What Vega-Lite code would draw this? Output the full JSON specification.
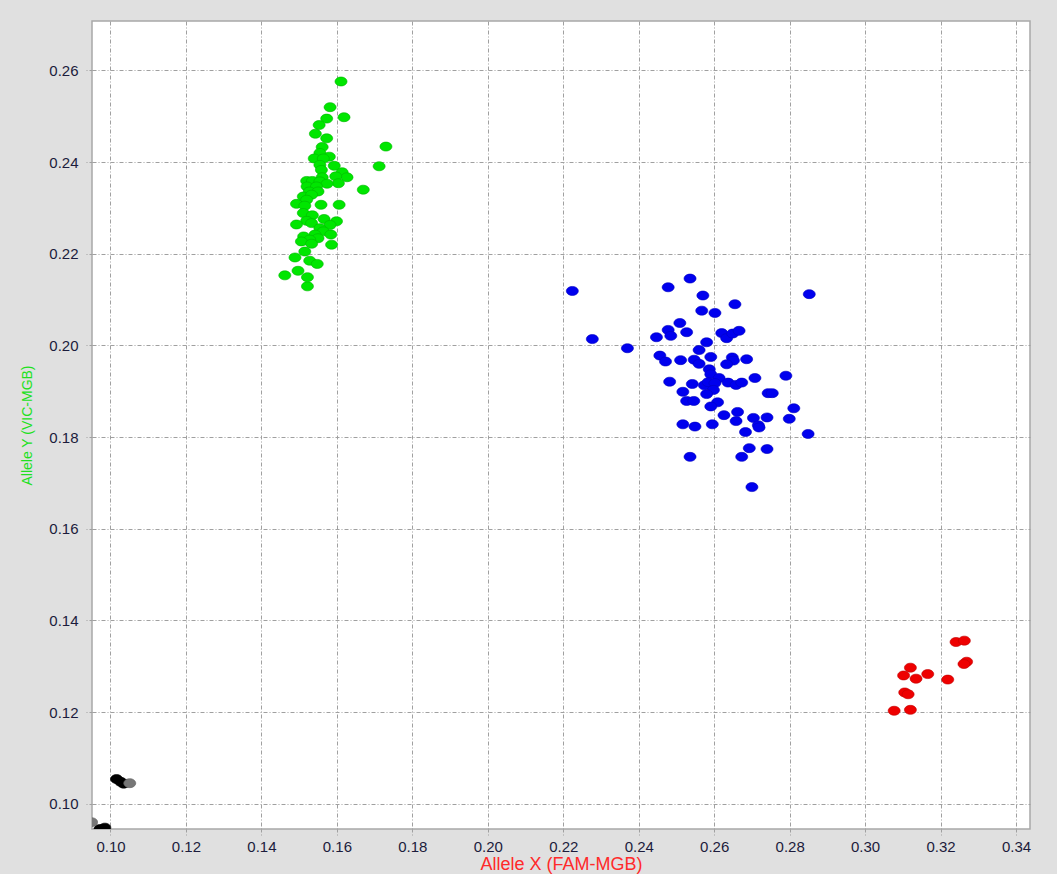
{
  "$schema": "https://vega.github.io/schema/vega-lite/v6.json",
  "width": 938,
  "height": 808,
  "autosize": {"type": "none"},
  "padding": {"left": 92, "top": 21, "right": 27, "bottom": 45},
  "background": "#e0e0e0",
  "config": {
    "view": {"fill": "#ffffff", "stroke": "#a8a8a8", "strokeWidth": 1.5},
    "font": "Liberation Sans"
  },
  "datasets": {
    "pts": [
      {"x": 0.1611, "y": 0.2576, "g": "green"}, {"x": 0.1582, "y": 0.2520, "g": "green"}, {"x": 0.1619, "y": 0.2498, "g": "green"}, {"x": 0.1573, "y": 0.2495, "g": "green"},
      {"x": 0.1553, "y": 0.2481, "g": "green"}, {"x": 0.1543, "y": 0.2462, "g": "green"}, {"x": 0.1573, "y": 0.2452, "g": "green"}, {"x": 0.1730, "y": 0.2434, "g": "green"},
      {"x": 0.1561, "y": 0.2433, "g": "green"}, {"x": 0.1555, "y": 0.2420, "g": "green"}, {"x": 0.1580, "y": 0.2412, "g": "green"}, {"x": 0.1540, "y": 0.2408, "g": "green"},
      {"x": 0.1564, "y": 0.2408, "g": "green"}, {"x": 0.1555, "y": 0.2394, "g": "green"}, {"x": 0.1559, "y": 0.2383, "g": "green"}, {"x": 0.1593, "y": 0.2392, "g": "green"},
      {"x": 0.1712, "y": 0.2391, "g": "green"}, {"x": 0.1614, "y": 0.2378, "g": "green"}, {"x": 0.1627, "y": 0.2367, "g": "green"}, {"x": 0.1597, "y": 0.2369, "g": "green"},
      {"x": 0.1561, "y": 0.2367, "g": "green"}, {"x": 0.1604, "y": 0.2354, "g": "green"}, {"x": 0.1520, "y": 0.2359, "g": "green"}, {"x": 0.1535, "y": 0.2359, "g": "green"},
      {"x": 0.1555, "y": 0.2358, "g": "green"}, {"x": 0.1574, "y": 0.2353, "g": "green"}, {"x": 0.1521, "y": 0.2347, "g": "green"}, {"x": 0.1546, "y": 0.2347, "g": "green"},
      {"x": 0.1527, "y": 0.2336, "g": "green"}, {"x": 0.1550, "y": 0.2336, "g": "green"}, {"x": 0.1670, "y": 0.2340, "g": "green"}, {"x": 0.1511, "y": 0.2325, "g": "green"},
      {"x": 0.1533, "y": 0.2329, "g": "green"}, {"x": 0.1520, "y": 0.2318, "g": "green"}, {"x": 0.1493, "y": 0.2309, "g": "green"}, {"x": 0.1515, "y": 0.2305, "g": "green"},
      {"x": 0.1558, "y": 0.2307, "g": "green"}, {"x": 0.1606, "y": 0.2307, "g": "green"}, {"x": 0.1511, "y": 0.2289, "g": "green"}, {"x": 0.1535, "y": 0.2284, "g": "green"},
      {"x": 0.1520, "y": 0.2272, "g": "green"}, {"x": 0.1566, "y": 0.2276, "g": "green"}, {"x": 0.1599, "y": 0.2271, "g": "green"}, {"x": 0.1493, "y": 0.2264, "g": "green"},
      {"x": 0.1533, "y": 0.2267, "g": "green"}, {"x": 0.1582, "y": 0.2263, "g": "green"}, {"x": 0.1555, "y": 0.2256, "g": "green"}, {"x": 0.1564, "y": 0.2249, "g": "green"},
      {"x": 0.1584, "y": 0.2242, "g": "green"}, {"x": 0.1542, "y": 0.2242, "g": "green"}, {"x": 0.1512, "y": 0.2238, "g": "green"}, {"x": 0.1550, "y": 0.2234, "g": "green"},
      {"x": 0.1528, "y": 0.2231, "g": "green"}, {"x": 0.1506, "y": 0.2227, "g": "green"}, {"x": 0.1533, "y": 0.2222, "g": "green"}, {"x": 0.1586, "y": 0.2220, "g": "green"},
      {"x": 0.1515, "y": 0.2205, "g": "green"}, {"x": 0.1489, "y": 0.2192, "g": "green"}, {"x": 0.1528, "y": 0.2185, "g": "green"}, {"x": 0.1548, "y": 0.2178, "g": "green"},
      {"x": 0.1497, "y": 0.2163, "g": "green"}, {"x": 0.1462, "y": 0.2153, "g": "green"}, {"x": 0.1522, "y": 0.2149, "g": "green"}, {"x": 0.1522, "y": 0.2129, "g": "green"},
      {"x": 0.2224, "y": 0.2119, "g": "blue"}, {"x": 0.2478, "y": 0.2127, "g": "blue"}, {"x": 0.2536, "y": 0.2146, "g": "blue"}, {"x": 0.2852, "y": 0.2112, "g": "blue"},
      {"x": 0.2570, "y": 0.2109, "g": "blue"}, {"x": 0.2655, "y": 0.2090, "g": "blue"}, {"x": 0.2567, "y": 0.2076, "g": "blue"}, {"x": 0.2602, "y": 0.2071, "g": "blue"},
      {"x": 0.2509, "y": 0.2049, "g": "blue"}, {"x": 0.2478, "y": 0.2034, "g": "blue"}, {"x": 0.2527, "y": 0.2029, "g": "blue"}, {"x": 0.2485, "y": 0.2021, "g": "blue"},
      {"x": 0.2447, "y": 0.2018, "g": "blue"}, {"x": 0.2620, "y": 0.2027, "g": "blue"}, {"x": 0.2633, "y": 0.2016, "g": "blue"}, {"x": 0.2649, "y": 0.2026, "g": "blue"},
      {"x": 0.2666, "y": 0.2032, "g": "blue"}, {"x": 0.2277, "y": 0.2014, "g": "blue"}, {"x": 0.2580, "y": 0.2007, "g": "blue"}, {"x": 0.2370, "y": 0.1994, "g": "blue"},
      {"x": 0.2560, "y": 0.1990, "g": "blue"}, {"x": 0.2456, "y": 0.1978, "g": "blue"}, {"x": 0.2471, "y": 0.1965, "g": "blue"}, {"x": 0.2511, "y": 0.1968, "g": "blue"},
      {"x": 0.2547, "y": 0.1969, "g": "blue"}, {"x": 0.2560, "y": 0.1960, "g": "blue"}, {"x": 0.2591, "y": 0.1975, "g": "blue"}, {"x": 0.2648, "y": 0.1974, "g": "blue"},
      {"x": 0.2651, "y": 0.1967, "g": "blue"}, {"x": 0.2633, "y": 0.1959, "g": "blue"}, {"x": 0.2686, "y": 0.1970, "g": "blue"}, {"x": 0.2587, "y": 0.1948, "g": "blue"},
      {"x": 0.2591, "y": 0.1937, "g": "blue"}, {"x": 0.2790, "y": 0.1934, "g": "blue"}, {"x": 0.2482, "y": 0.1921, "g": "blue"}, {"x": 0.2613, "y": 0.1929, "g": "blue"},
      {"x": 0.2708, "y": 0.1929, "g": "blue"}, {"x": 0.2542, "y": 0.1916, "g": "blue"}, {"x": 0.2574, "y": 0.1913, "g": "blue"}, {"x": 0.2584, "y": 0.1920, "g": "blue"},
      {"x": 0.2602, "y": 0.1918, "g": "blue"}, {"x": 0.2637, "y": 0.1919, "g": "blue"}, {"x": 0.2658, "y": 0.1914, "g": "blue"}, {"x": 0.2673, "y": 0.1919, "g": "blue"},
      {"x": 0.2598, "y": 0.1903, "g": "blue"}, {"x": 0.2517, "y": 0.1899, "g": "blue"}, {"x": 0.2580, "y": 0.1894, "g": "blue"}, {"x": 0.2743, "y": 0.1896, "g": "blue"},
      {"x": 0.2754, "y": 0.1896, "g": "blue"}, {"x": 0.2527, "y": 0.1879, "g": "blue"}, {"x": 0.2546, "y": 0.1879, "g": "blue"}, {"x": 0.2609, "y": 0.1876, "g": "blue"},
      {"x": 0.2591, "y": 0.1867, "g": "blue"}, {"x": 0.2811, "y": 0.1863, "g": "blue"}, {"x": 0.2626, "y": 0.1848, "g": "blue"}, {"x": 0.2662, "y": 0.1855, "g": "blue"},
      {"x": 0.2704, "y": 0.1842, "g": "blue"}, {"x": 0.2740, "y": 0.1843, "g": "blue"}, {"x": 0.2799, "y": 0.1840, "g": "blue"}, {"x": 0.2658, "y": 0.1835, "g": "blue"},
      {"x": 0.2517, "y": 0.1828, "g": "blue"}, {"x": 0.2549, "y": 0.1823, "g": "blue"}, {"x": 0.2595, "y": 0.1828, "g": "blue"}, {"x": 0.2717, "y": 0.1826, "g": "blue"},
      {"x": 0.2719, "y": 0.1821, "g": "blue"}, {"x": 0.2683, "y": 0.1811, "g": "blue"}, {"x": 0.2849, "y": 0.1807, "g": "blue"}, {"x": 0.2693, "y": 0.1776, "g": "blue"},
      {"x": 0.2740, "y": 0.1774, "g": "blue"}, {"x": 0.2536, "y": 0.1757, "g": "blue"}, {"x": 0.2673, "y": 0.1757, "g": "blue"}, {"x": 0.2700, "y": 0.1691, "g": "blue"},
      {"x": 0.3241, "y": 0.1353, "g": "red"}, {"x": 0.3263, "y": 0.1356, "g": "red"}, {"x": 0.3269, "y": 0.1310, "g": "red"}, {"x": 0.3262, "y": 0.1305, "g": "red"},
      {"x": 0.3120, "y": 0.1297, "g": "red"}, {"x": 0.3102, "y": 0.1280, "g": "red"}, {"x": 0.3135, "y": 0.1273, "g": "red"}, {"x": 0.3166, "y": 0.1283, "g": "red"},
      {"x": 0.3219, "y": 0.1271, "g": "red"}, {"x": 0.3105, "y": 0.1243, "g": "red"}, {"x": 0.3114, "y": 0.1239, "g": "red"}, {"x": 0.3077, "y": 0.1203, "g": "red"},
      {"x": 0.3120, "y": 0.1205, "g": "red"},
      {"x": 0.1016, "y": 0.1054, "g": "black"}, {"x": 0.1027, "y": 0.1048, "g": "black"}, {"x": 0.1035, "y": 0.1044, "g": "black"},
      {"x": 0.0972, "y": 0.0945, "g": "black"}, {"x": 0.0985, "y": 0.0948, "g": "black"},
      {"x": 0.1051, "y": 0.1045, "g": "gray"}, {"x": 0.0950, "y": 0.0960, "g": "gray"}
    ]
  },
  "data": {"name": "pts"},
  "mark": {
    "type": "point",
    "filled": true,
    "clip": true,
    "shape": "M-1,0A1,0.75,0,1,1,1,0A1,0.75,0,1,1,-1,0Z",
    "size": 144,
    "opacity": 1,
    "strokeWidth": 0.6
  },
  "encoding": {
    "x": {
      "field": "x", "type": "quantitative",
      "scale": {"domain": [0.0951, 0.3437], "nice": false, "zero": false},
      "axis": {
        "title": "Allele X (FAM-MGB)", "titleColor": "#ff2a2a", "titleFontSize": 18, "titleFontWeight": "normal", "titlePadding": 1,
        "values": [0.10, 0.12, 0.14, 0.16, 0.18, 0.20, 0.22, 0.24, 0.26, 0.28, 0.30, 0.32, 0.34],
        "format": ".2f", "labelFontSize": 15, "labelColor": "#1c1c3c", "labelPadding": 4,
        "domain": false, "ticks": true, "tickSize": 6, "tickColor": "#a0a0a0", "tickDash": [3, 2],
        "grid": true, "gridColor": "#a0a0a0", "gridDash": [4, 2, 1, 2], "gridWidth": 1
      }
    },
    "y": {
      "field": "y", "type": "quantitative",
      "scale": {"domain": [0.0945, 0.2708], "nice": false, "zero": false},
      "axis": {
        "title": "Allele Y (VIC-MGB)", "titleColor": "#20e020", "titleFontSize": 14, "titleFontWeight": "normal", "titlePadding": 14,
        "values": [0.10, 0.12, 0.14, 0.16, 0.18, 0.20, 0.22, 0.24, 0.26],
        "format": ".2f", "labelFontSize": 15, "labelColor": "#1c1c3c", "labelPadding": 8,
        "domain": false, "ticks": true, "tickSize": 6, "tickColor": "#a0a0a0", "tickDash": [3, 2],
        "grid": true, "gridColor": "#a0a0a0", "gridDash": [4, 2, 1, 2], "gridWidth": 1
      }
    },
    "fill": {
      "field": "g", "type": "nominal",
      "scale": {"domain": ["green", "blue", "red", "black", "gray"], "range": ["#00e600", "#0000ee", "#ee0000", "#000000", "#777777"]},
      "legend": null
    },
    "stroke": {
      "field": "g", "type": "nominal",
      "scale": {"domain": ["green", "blue", "red", "black", "gray"], "range": ["#00b400", "#0000c0", "#c00000", "#000000", "#606060"]},
      "legend": null
    }
  }
}
